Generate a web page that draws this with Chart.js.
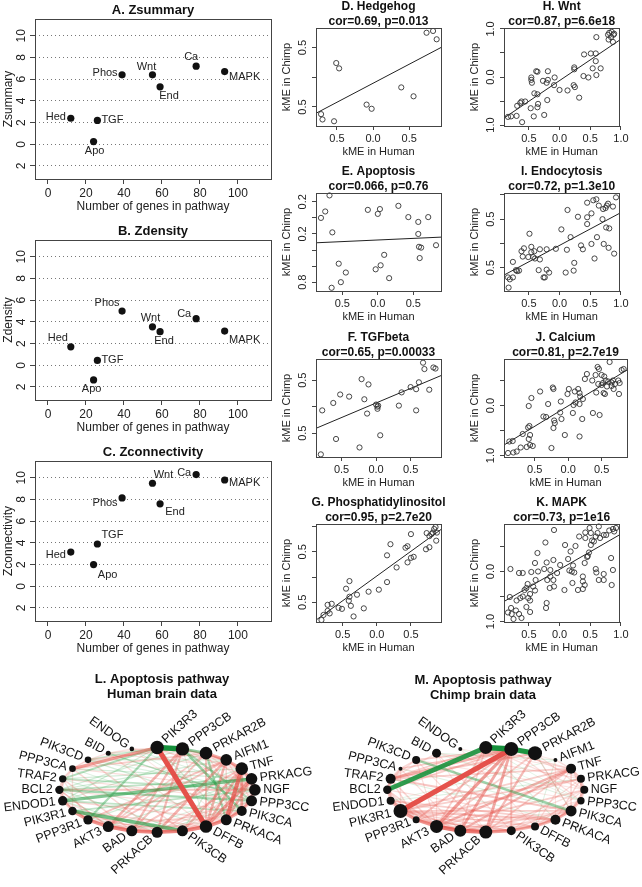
<!DOCTYPE html>
<html>
<head>
<meta charset="utf-8">
<script src="https://cdn.jsdelivr.net/npm/chart.js@4.4.0/dist/chart.umd.min.js"></script>
<style>
  body { margin: 0; background: #fff; width: 642px; height: 887px; position: relative; overflow: hidden; }
  canvas { position: absolute; }
</style>
</head>
<body>
<script>
// ---- A-C: pathway Z statistics ----
const pathways = ['Hed', 'TGF', 'Apo', 'Phos', 'Wnt', 'End', 'Ca', 'MAPK'];
const genesInPathway = [12, 26, 24, 39, 55, 59, 78, 93];
const zSummary = [2.4, 2.2, 0.25, 6.4, 6.4, 5.3, 7.2, 6.7];
const zDensity = [1.7, 0.45, -1.35, 5.0, 3.55, 3.1, 4.3, 3.15];
const zConnectivity = [3.15, 3.9, 2.0, 8.15, 9.5, 7.6, 10.3, 9.8];
const zTicks = [-2, 0, 2, 4, 6, 8, 10];
const geneTicks = [0, 20, 40, 60, 80, 100];

// ---- D-K: kME in human vs chimp, [human, chimp] ----
const hedgehogKME = [[0.74,0.75],[0.83,0.78],[0.88,0.64],[-0.51,0.24],[-0.47,0.15],[0.39,-0.17],[0.56,-0.32],
  [-0.09,-0.46],[-0.02,-0.53],[-0.72,-0.62],[-0.70,-0.71],[-0.54,-0.74]];
const apoptosisKME = [[-0.68,0.28],[-0.74,0.08],[-0.80,0.0],[-0.64,-0.18],[-0.14,0.10],[0.03,0.11],[0.0,0.05],
  [0.29,0.15],[0.43,0.01],[0.57,-0.05],[0.71,0.01],[0.57,-0.20],[0.58,-0.36],[0.61,-0.37],[0.82,-0.34],
  [0.59,-0.50],[-0.55,-0.57],[-0.45,-0.68],[-0.52,-0.80],[-0.65,-0.87],[0.09,-0.46],[0.04,-0.59],
  [-0.03,-0.64],[0.16,-0.75]];
const tgfbetaKME = [[0.68,0.83],[0.70,0.71],[0.83,0.74],[0.86,0.72],[-0.21,0.52],[-0.11,0.42],[-0.52,0.23],
  [-0.39,0.19],[-0.62,0.07],[-0.78,-0.07],[-0.17,0.14],[-0.13,-0.13],[0.0,0.04],[0.02,0.0],[0.03,0.02],
  [0.02,-0.04],[0.33,0.02],[0.37,0.27],[0.50,0.37],[0.62,0.46],[0.58,0.33],[0.58,-0.07],[0.77,0.32],
  [-0.58,-0.61],[-0.24,-0.77],[0.06,-0.54],[-0.80,-0.90]];
const phosphatidylKME = [[0.86,0.99],[0.84,0.95],[0.82,0.88],[0.88,0.88],[0.80,0.85],[0.77,0.81],[0.73,0.87],
  [0.87,0.72],[0.72,0.55],[0.77,0.59],[0.50,0.85],[0.45,0.61],[0.42,0.58],[0.45,0.29],[0.50,0.38],
  [0.54,0.40],[0.20,0.65],[0.15,0.43],[0.15,-0.10],[0.29,0.19],[0.03,-0.25],[-0.12,-0.29],[-0.19,-0.62],
  [-0.29,-0.35],[-0.40,-0.08],[-0.45,-0.23],[-0.40,-0.39],[-0.41,-0.47],[-0.38,-0.57],[-0.34,-0.78],
  [-0.56,-0.61],[-0.51,-0.63],[-0.66,-0.53],[-0.72,-0.67],[-0.72,-0.55],[-0.69,-0.72],[-0.78,-0.75],
  [-0.81,-0.85]];
const wntKME = [[0.60,0.83],[0.81,0.92],[0.85,0.94],[0.89,0.90],[0.84,0.83],[0.80,0.78],[0.87,0.73],
  [0.88,0.88],[0.79,0.88],[0.40,0.47],[0.51,0.49],[0.59,0.49],[0.59,0.33],[0.54,0.18],[0.67,0.18],
  [0.60,0.04],[0.47,-0.01],[0.39,0.02],[0.24,0.20],[0.24,0.16],[-0.08,-0.01],[-0.09,-0.17],[0.0,-0.27],
  [0.13,-0.28],[0.23,-0.17],[0.25,-0.21],[0.32,-0.43],[-0.19,0.12],[-0.27,-0.08],[-0.21,-0.12],
  [-0.19,-0.06],[-0.38,0.12],[-0.36,0.11],[-0.46,-0.01],[-0.46,-0.06],[-0.45,-0.12],[-0.41,-0.34],
  [-0.36,-0.36],[-0.35,-0.56],[-0.36,-0.63],[-0.20,-0.48],[-0.25,-0.79],[-0.42,-0.82],[-0.47,-0.65],
  [-0.56,-0.51],[-0.62,-0.51],[-0.64,-0.54],[-0.69,-0.60],[-0.61,-0.94],[-0.70,-0.81],[-0.79,-0.82],
  [-0.84,-0.83]];
const endocytosisKME = [[0.92,0.95],[0.60,0.91],[0.55,0.89],[0.45,0.84],[0.64,0.78],[0.79,0.82],[0.71,0.71],
  [0.75,0.73],[0.77,0.78],[0.87,0.76],[0.52,0.62],[0.30,0.55],[0.45,0.54],[0.70,0.50],[0.45,0.40],
  [0.76,0.33],[0.81,0.31],[0.13,0.69],[0.03,0.29],[0.18,0.13],[-0.49,0.20],[-0.58,-0.10],[-0.62,-0.16],
  [-0.46,-0.07],[-0.76,-0.38],[-0.60,-0.27],[-0.46,-0.18],[-0.41,-0.16],[-0.51,-0.28],[-0.43,-0.28],
  [-0.40,-0.31],[-0.32,-0.12],[-0.21,-0.12],[-0.06,-0.11],[0.12,-0.13],[0.35,-0.04],[0.38,-0.12],
  [0.52,-0.01],[0.61,0.13],[0.72,-0.01],[0.80,-0.09],[0.89,-0.21],[0.57,-0.31],[0.24,-0.40],[0.10,-0.60],
  [0.23,-0.56],[-0.32,-0.33],[-0.34,-0.55],[-0.21,-0.54],[-0.17,-0.60],[-0.26,-0.70],[-0.24,-0.70],
  [-0.71,-0.55],[-0.69,-0.57],[-0.66,-0.56],[-0.76,-0.70],[-0.81,-0.74],[-0.84,-0.70],[-0.83,-0.91]];
const calciumKME = [[0.62,0.87],[0.44,0.77],[0.46,0.73],[0.80,0.71],[0.83,0.73],[0.28,0.63],[0.41,0.61],
  [0.50,0.61],[0.54,0.58],[0.36,0.50],[0.45,0.43],[0.50,0.41],[0.52,0.45],[0.56,0.50],[0.60,0.48],
  [0.65,0.46],[0.67,0.50],[0.70,0.43],[0.75,0.50],[0.77,0.45],[0.58,0.38],[0.65,0.39],[0.68,0.33],
  [0.25,0.53],[0.53,0.25],[0.55,0.23],[0.76,0.23],[0.42,0.26],[0.10,0.28],[0.15,0.33],[0.17,0.25],
  [0.18,0.18],[0.22,0.13],[0.08,0.01],[0.11,0.06],[0.17,0.03],[0.01,0.33],[-0.01,0.23],[-0.23,0.36],
  [-0.22,0.33],[-0.42,0.28],[-0.55,0.15],[-0.59,-0.01],[-0.30,0.03],[-0.11,0.08],[-0.12,-0.14],
  [-0.37,-0.22],[-0.33,-0.23],[-0.21,-0.30],[-0.20,-0.35],[-0.22,-0.45],[-0.10,-0.27],[0.07,-0.15],
  [0.21,-0.27],[-0.05,-0.59],[0.17,-0.62],[0.37,-0.15],[0.47,-0.19],[-0.58,-0.41],[-0.60,-0.44],
  [-0.57,-0.59],[-0.68,-0.57],[-0.59,-0.67],[-0.57,-0.79],[-0.62,-0.83],[-0.53,-0.81],[-0.71,-0.84],
  [-0.77,-0.92],[-0.82,-0.94],[-0.90,-0.95],[-0.88,-0.72],[-0.83,-0.71],[-0.25,-0.85]];
const mapkKME = [[0.92,0.87],[0.87,0.85],[0.89,0.80],[0.81,0.82],[0.76,0.73],[0.72,0.73],[0.64,0.90],
  [0.62,0.77],[0.66,0.67],[0.59,0.70],[0.53,0.62],[0.51,0.53],[0.56,0.60],[0.42,0.78],[0.42,0.67],
  [0.51,0.77],[0.49,0.87],[0.32,0.70],[0.26,0.51],[0.48,0.38],[0.46,0.31],[0.45,0.29],[0.41,0.17],
  [0.59,0.05],[0.60,-0.02],[0.64,-0.17],[0.38,-0.10],[0.38,-0.20],[0.41,-0.27],[0.38,-0.35],[0.21,-0.23],
  [0.22,0.12],[0.20,0.0],[0.16,0.02],[0.24,-0.02],[0.14,0.25],[0.18,0.40],[0.09,0.53],[0.08,-0.37],
  [0.01,0.13],[-0.04,-0.03],[-0.10,-0.17],[-0.09,-0.30],[-0.15,0.03],[-0.16,-0.33],[-0.10,0.23],
  [-0.21,0.18],[-0.25,0.05],[-0.40,0.17],[-0.36,0.37],[-0.35,0.0],[-0.46,-0.01],[-0.39,-0.17],
  [-0.43,-0.30],[-0.40,-0.38],[-0.48,-0.45],[-0.57,-0.37],[-0.52,-0.25],[-0.54,-0.33],[-0.51,-0.53],
  [-0.48,-0.58],[-0.54,-0.71],[-0.60,-0.03],[-0.66,-0.03],[-0.80,0.05],[-0.60,-0.50],[-0.64,-0.53],
  [-0.81,-0.51],[-0.70,-0.58],[-0.23,0.58],[-0.09,0.83],[-0.15,-0.10],[-0.20,-0.17],[-0.21,-0.63],
  [-0.22,-0.73],[0.84,0.27],[0.87,0.03],[0.72,-0.05],[0.85,-0.27],[0.72,-0.17],[0.30,-0.37],
  [-0.84,-0.82],[-0.79,-0.73],[-0.71,-0.78],[-0.66,-0.85],[-0.62,-0.93],[-0.75,-0.95],[-0.78,-0.85],
  [-0.48,-0.81]];
// fitted lines [slope, intercept]
const hedgehogFit = [0.64, -0.10];
const apoptosisFit = [0.04, -0.275];
const tgfbetaFit = [0.55, 0.07];
const phosphatidylFit = [0.98, 0.02];
const wntFit = [0.861, -0.075];
const endocytosisFit = [0.676, -0.04];
const calciumFit = [0.815, -0.008];
const mapkFit = [0.708, 0.041];

// ---- L-M: apoptosis pathway networks ----
const apoGenes = ['PIK3R3','PPP3CB','PRKAR2B','AIFM1','TNF','PRKACG','NGF','PPP3CC','PIK3CA','PRKACA',
  'DFFB','PIK3CB','PRKACB','BAD','AKT3','PPP3R1','PIK3R1','ENDOD1','BCL2','TRAF2','PPP3CA','PIK3CD','BID','ENDOG'];
const humanConn = [0.94,0.94,0.86,0.76,0.86,0.76,0.76,0.70,0.60,0.70,0.86,0.70,0.70,0.70,0.70,0.54,0.46,0.54,
  0.44,0.34,0.26,0.26,0.10,0.06];
const chimpConn = [0.90,1.0,1.0,0.0,0.60,0.40,0.40,0.34,0.70,0.60,0.40,0.50,0.90,0.80,0.90,0.30,1.0,0.40,
  0.44,0.60,0.0,0.40,0.50,0.0];
// [gene a, gene b, correlation]  (positive red, negative green)
const humanEdges = [
  [0,1,-0.9],[1,2,-0.5],[0,10,0.85],[16,11,-0.6],[17,5,-0.55],[18,7,-0.4],[20,0,0.55],
  [4,9,0.7],[5,10,0.55],[4,10,0.45],[3,10,0.45],[1,14,0.45],[1,13,0.4],[1,12,0.4],[2,13,0.35],[12,3,0.45],[14,3,0.35],
  [16,15,0.55],[15,14,0.6],[14,13,0.65],[13,12,0.65],[12,11,0.65],[11,10,0.65],[10,9,0.6],[9,8,0.5],
  [2,3,0.5],[3,4,0.5],[4,5,0.4],[5,6,0.35],[6,7,0.35],[7,8,0.4],
  [0,15,-0.4],[0,19,-0.35],[1,8,-0.45],[2,9,-0.4],[1,7,-0.35],[18,5,-0.3],[19,6,-0.3],[17,8,-0.3],[16,6,-0.3],
  [18,6,0.35],[15,3,0.35],[13,4,0.35],[11,4,0.4],[10,2,0.35],[9,5,0.45],[8,4,0.5],[20,2,0.3],[21,1,0.3],[14,2,0.3],[12,5,0.3],
  [23,3,0.2],[23,9,0.15],[22,4,0.2],[22,10,0.2],[21,5,0.15],[21,11,0.25],[20,6,0.2],[20,12,0.25],[19,7,0.2],
  [19,13,0.25],[18,8,0.2],[18,14,0.25],[17,9,0.25],[17,15,0.3],[16,10,0.25],[15,9,0.2],[15,11,0.2],[14,8,0.2],
  [14,10,0.25],[13,7,0.2],[13,9,0.2],[12,6,0.2],[12,8,0.2],[11,5,0.2],[11,7,0.2],[10,6,0.2],[9,3,0.25],[8,2,0.2],
  [7,3,0.2],[6,0,0.2],[6,2,0.2],[5,1,0.2],[4,0,0.2],[3,1,0.25],[2,0,0.25],[22,0,0.15],[23,1,0.15],
  [23,6,-0.15],[22,7,-0.2],[21,8,-0.2],[20,9,-0.15],[19,10,-0.15],[18,11,-0.2],[17,12,-0.2],[16,13,-0.15],
  [15,4,-0.2],[14,5,-0.2],[13,6,-0.15],[12,7,-0.2],[11,3,-0.2],[10,1,-0.15],[9,0,-0.2],[8,23,-0.15],[7,22,-0.2],
  [6,21,-0.15],[5,20,-0.2],[4,19,-0.2],[3,18,-0.2],[2,17,-0.2],[1,18,-0.2],[0,17,-0.2],[0,21,-0.25],[1,22,-0.15],[3,21,-0.15],
  [16,17,0.3],[17,18,0.3],[18,19,0.3],[19,20,0.3],[20,21,0.25],[21,22,0.2],[22,23,0.15],[15,17,0.25],[16,18,0.25],
  [17,19,0.25],[18,20,0.2],[16,20,0.2],[15,19,0.2],[14,18,0.2],[13,17,0.2],[12,16,0.25],[13,15,0.3],[12,14,0.3],
  [11,13,0.3],[10,12,0.3],[9,11,0.3],[8,10,0.3],[7,9,0.35],[6,8,0.35],[5,7,0.35],[4,6,0.3],[3,5,0.3],[2,4,0.3],[1,3,0.25]
];
const chimpEdges = [
  [0,1,-0.9],[1,2,-0.85],[18,0,-0.8],[21,8,-0.45],[1,16,0.85],
  [1,14,0.55],[1,13,0.5],[1,12,0.5],[1,19,0.45],[1,11,0.35],[1,15,0.35],
  [4,14,0.45],[4,13,0.4],[4,16,0.3],[4,12,0.3],[2,12,0.4],[2,14,0.3],[0,14,0.3],[0,13,0.25],
  [16,15,0.55],[15,14,0.6],[14,13,0.7],[13,12,0.7],[12,11,0.55],[11,10,0.45],[10,9,0.45],[9,8,0.45],
  [16,17,0.4],[17,18,0.35],[18,19,0.4],[19,20,0.3],[20,21,0.25],
  [8,7,0.35],[7,6,0.3],[6,5,0.3],[5,4,0.35],[4,3,0.2],
  [19,2,0.35],[19,4,0.3],[15,5,0.3],[14,6,0.3],[17,9,0.3],[16,9,0.35],[16,8,0.3],[13,8,0.25],
  [20,1,0.3],[21,1,0.3],[19,0,0.3],[18,1,0.3],[8,19,0.35],[5,16,0.3],
  [23,4,0.15],[23,10,0.15],[22,5,0.2],[22,11,0.2],[21,6,0.15],[21,12,0.2],[20,7,0.15],[20,13,0.2],[19,14,0.25],
  [18,9,0.2],[18,15,0.25],[17,10,0.2],[17,14,0.25],[16,10,0.25],[15,9,0.2],[15,11,0.25],[14,8,0.2],[14,10,0.25],
  [13,7,0.2],[13,9,0.2],[12,6,0.2],[12,8,0.2],[11,5,0.2],[11,7,0.2],[10,4,0.2],[10,6,0.2],[9,3,0.15],[9,5,0.25],
  [8,2,0.2],[8,4,0.25],[7,1,0.2],[6,0,0.2],[6,2,0.2],[5,1,0.2],[4,0,0.25],[3,1,0.15],[2,0,0.2],[15,17,0.25],
  [16,18,0.3],[17,19,0.25],[18,20,0.2],[16,20,0.2],[15,19,0.25],[14,18,0.25],[13,17,0.2],[12,16,0.3],[11,16,0.25],
  [13,15,0.35],[12,14,0.35],[11,13,0.3],[10,12,0.3],[9,11,0.3],[8,10,0.3],[7,9,0.3],[6,8,0.3],[5,7,0.3],[4,6,0.3],
  [22,19,0.2],[21,19,0.2],[22,12,0.15],[22,14,0.2],[21,14,0.2],
  [20,8,-0.15],[19,9,-0.15],[22,7,-0.15],[17,5,-0.15],[0,9,-0.15],[2,8,-0.15],[3,10,-0.15],[22,3,-0.15],
  [23,7,-0.1],[3,17,-0.12],[0,7,-0.12]
];

// label placement for A-C points (pixel offsets from the dot)
const labelPosA = [[-15,-1],[15,0],[1,9],[-17,-2],[-6,-8],[9,9],[-5,-9],[20,5]];
const labelPosB = [[-13,-9],[15,0],[-2,9],[-15,-8],[-2,-9],[4,9],[-12,-5],[20,9]];
const labelPosC = [[-15,3],[15,-9],[14,10],[-17,5],[11,-8],[15,8],[-12,-2],[20,3]];

const FONT = '"Liberation Sans", Arial, Helvetica, sans-serif';
Chart.defaults.font.family = FONT;
Chart.defaults.color = '#222';

function addCanvas(left, top, w, h) {
  const c = document.createElement('canvas');
  c.width = w; c.height = h;
  c.style.left = left + 'px'; c.style.top = top + 'px';
  c.style.width = w + 'px'; c.style.height = h + 'px';
  document.body.appendChild(c);
  return c;
}

function boxPlugin() {
  return {
    id: 'plotBox',
    afterDraw(chart) {
      const a = chart.chartArea, ctx = chart.ctx;
      ctx.save();
      ctx.strokeStyle = '#444';
      ctx.lineWidth = 1;
      ctx.strokeRect(Math.round(a.left) + 0.5, Math.round(a.top) + 0.5,
        Math.round(a.right - a.left), Math.round(a.bottom - a.top));
      ctx.restore();
    }
  };
}

function titlePlugin(lines, size, dy, cx) {
  return {
    id: 'panelTitle',
    afterDraw(chart) {
      const a = chart.chartArea, ctx = chart.ctx;
      ctx.save();
      ctx.fillStyle = '#111';
      ctx.font = 'bold ' + size + 'px ' + FONT;
      ctx.textAlign = 'center';
      ctx.textBaseline = 'middle';
      const x = cx != null ? cx : (a.left + a.right) / 2;
      lines.forEach((t, i) => ctx.fillText(t, x, a.top + dy[i]));
      ctx.restore();
    }
  };
}

function pointLabelPlugin(labels, offsets) {
  return {
    id: 'pointLabels',
    afterDatasetsDraw(chart) {
      const meta = chart.getDatasetMeta(0), ctx = chart.ctx;
      ctx.save();
      ctx.fillStyle = '#222';
      ctx.font = '11px ' + FONT;
      ctx.textAlign = 'center';
      ctx.textBaseline = 'middle';
      meta.data.forEach((pt, i) => {
        ctx.fillText(labels[i], pt.x + offsets[i][0], pt.y + offsets[i][1]);
      });
      ctx.restore();
    }
  };
}

function fixedTicks(vals) {
  return (scale) => { scale.ticks = vals.map(v => ({ value: v })); };
}

// ---------- A-C ----------
function zPanel(box, title, yTitle, values, offsets) {
  const cv = addCanvas(box.x - 35, box.y - 19, box.w + 41, box.h + 55);
  new Chart(cv, {
    type: 'scatter',
    data: {
      datasets: [{
        data: genesInPathway.map((g, i) => ({ x: g, y: values[i] })),
        backgroundColor: '#111', borderColor: '#111', borderWidth: 0,
        pointRadius: 3.6, pointHoverRadius: 3.6, clip: 6
      }]
    },
    options: {
      responsive: false, animation: false, events: [],
      layout: { padding: { top: 19, right: 6, left: 0, bottom: 0 } },
      plugins: { legend: { display: false }, tooltip: { enabled: false } },
      scales: {
        x: {
          type: 'linear', min: -6.84, max: 117.4,
          afterBuildTicks: fixedTicks(geneTicks),
          afterFit: (s) => { s.height = 36; },
          grid: { drawOnChartArea: false, tickLength: 5, color: '#444' },
          border: { display: false },
          ticks: { font: { size: 12 }, color: '#222', padding: 2, maxRotation: 0, autoSkip: false },
          title: { display: true, text: 'Number of genes in pathway', font: { size: 12 }, color: '#222',
                   padding: { top: 0, bottom: 1 } }
        },
        y: {
          type: 'linear', min: -3.2, max: 11.55,
          afterBuildTicks: fixedTicks(zTicks),
          afterFit: (s) => { s.width = 35; },
          grid: { drawOnChartArea: true, tickLength: 5, color: '#777', tickColor: '#444' },
          border: { display: false, dash: [1, 3] },
          ticks: { font: { size: 12 }, color: '#222', padding: 1.5, minRotation: 90, maxRotation: 90,
                   crossAlign: 'center', autoSkip: false, callback: (v) => String(Math.abs(v)) },
          title: { display: true, text: yTitle, font: { size: 12 }, color: '#222', padding: { top: 1, bottom: 0 } }
        }
      }
    },
    plugins: [boxPlugin(), titlePlugin([title], 13, [-9]), pointLabelPlugin(pathways, offsets)]
  });
}

zPanel({ x: 35, y: 19, w: 236, h: 160 }, 'A. Zsummary', 'Zsummary', zSummary, labelPosA);
zPanel({ x: 35, y: 240, w: 236, h: 160 }, 'B. Zdensity', 'Zdensity', zDensity, labelPosB);
zPanel({ x: 35, y: 461, w: 236, h: 160 }, 'C. Zconnectivity', 'Zconnectivity', zConnectivity, labelPosC);

// ---------- D-K ----------
function kmePanel(box, title, stat, pts, fit, xr, yr, xt, yt, ylab) {
  const cv = addCanvas(box.x - 36, box.y - 28, box.w + 40, box.h + 61);
  const fmt = (v) => Math.abs(v).toFixed(1);
  new Chart(cv, {
    type: 'scatter',
    data: {
      datasets: [
        {
          data: pts.map(p => ({ x: p[0], y: p[1] })),
          backgroundColor: 'rgba(0,0,0,0)', borderColor: '#333', borderWidth: 0.9,
          pointRadius: 2.6, pointHoverRadius: 2.6, clip: 4
        },
        {
          data: xr.map(x => ({ x: x, y: fit[1] + fit[0] * x })),
          showLine: true, borderColor: '#222', borderWidth: 1, pointRadius: 0
        }
      ]
    },
    options: {
      responsive: false, animation: false, events: [],
      layout: { padding: { top: 28, right: 4, left: 0, bottom: 0 } },
      plugins: { legend: { display: false }, tooltip: { enabled: false } },
      scales: {
        x: {
          type: 'linear', min: xr[0], max: xr[1],
          afterBuildTicks: fixedTicks(xt),
          afterFit: (s) => { s.height = 33; },
          grid: { drawOnChartArea: false, tickLength: 4, color: '#444' },
          border: { display: false },
          ticks: { font: { size: 11 }, color: '#222', padding: 2.5, maxRotation: 0, autoSkip: false, callback: fmt },
          title: { display: true, text: 'kME in Human', font: { size: 11 }, color: '#222', padding: { top: 0, bottom: 0.5 } }
        },
        y: {
          type: 'linear', min: yr[0], max: yr[1],
          afterBuildTicks: fixedTicks(yt),
          afterFit: (s) => { s.width = 36; },
          grid: { drawOnChartArea: false, tickLength: 4, color: '#444' },
          border: { display: false },
          ticks: { font: { size: 11 }, color: '#222', padding: 1.3, minRotation: 90, maxRotation: 90,
                   crossAlign: 'center', autoSkip: false,
                   callback: (v) => (ylab.includes(v) ? fmt(v) : '') },
          title: { display: true, text: 'kME in Chimp', font: { size: 11 }, color: '#222', padding: { top: 0.5, bottom: 0 } }
        }
      }
    },
    plugins: [boxPlugin(), titlePlugin([title, stat], 12, [-21, -6])]
  });
}

const colL = 316, colR = 504, wL = 125, wR = 123;
const rowY = [28, 193, 359, 524], boxH = 98;
const tk = [-0.5, 0, 0.5], tk4 = [-0.5, 0, 0.5, 1];

kmePanel({ x: colL, y: rowY[0], w: wL, h: boxH }, 'D. Hedgehog', 'cor=0.69, p=0.013', hedgehogKME, hedgehogFit,
  [-0.79, 0.94], [-0.82, 0.83], tk, tk, [0.5, -0.5]);
kmePanel({ x: colL, y: rowY[1], w: wL, h: boxH }, 'E. Apoptosis', 'cor=0.066, p=0.76', apoptosisKME, apoptosisFit,
  [-0.87, 0.89], [-0.91, 0.31], tk, [0.2, 0, -0.2, -0.4, -0.6, -0.8], [0.2, -0.2, -0.8]);
kmePanel({ x: colL, y: rowY[2], w: wL, h: boxH }, 'F. TGFbeta', 'cor=0.65, p=0.00033', tgfbetaKME, tgfbetaFit,
  [-0.87, 0.94], [-0.95, 0.90], tk, tk, [0.5, -0.5]);
kmePanel({ x: colL, y: rowY[3], w: wL, h: boxH }, 'G. Phosphatidylinositol', 'cor=0.95, p=2.7e20', phosphatidylKME, phosphatidylFit,
  [-0.89, 0.94], [-0.89, 1.05], tk, tk4, [0.5, -0.5]);
kmePanel({ x: colR, y: rowY[0], w: wR, h: boxH }, 'H. Wnt', 'cor=0.87, p=6.6e18', wntKME, wntFit,
  [-0.905, 0.975], [-1.02, 1.02], tk4, [-1, -0.5, 0, 0.5, 1], [1, 0, -1]);
kmePanel({ x: colR, y: rowY[1], w: wR, h: boxH }, 'I. Endocytosis', 'cor=0.72, p=1.3e10', endocytosisKME, endocytosisFit,
  [-0.905, 0.975], [-0.98, 1.04], tk4, tk4, [0.5, -0.5]);
kmePanel({ x: colR, y: rowY[2], w: wR, h: boxH }, 'J. Calcium', 'cor=0.81, p=2.7e19', calciumKME, calciumFit,
  [-0.96, 0.88], [-1.03, 0.93], tk, [-1, -0.5, 0, 0.5], [0, -1]);
kmePanel({ x: colR, y: rowY[3], w: wR, h: boxH }, 'K. MAPK', 'cor=0.73, p=1e16', mapkKME, mapkFit,
  [-0.905, 0.975], [-1.01, 0.95], tk4, [-1, -0.5, 0, 0.5], [0, -1]);

// ---------- L-M ----------
function nodeLabelPlugin(radii) {
  return {
    id: 'nodeLabels',
    afterDatasetsDraw(chart) {
      const meta = chart.getDatasetMeta(0), ctx = chart.ctx;
      const n = apoGenes.length;
      ctx.save();
      ctx.font = '12.5px ' + FONT;
      ctx.fillStyle = '#111';
      ctx.textBaseline = 'middle';
      meta.data.forEach((el, i) => {
        const deg = 90 - 360 / n * i;
        const right = deg > -90;
        const rot = 0.47 * (right ? deg : deg + 180) * Math.PI / 180;
        const gap = radii[i] + 2.5;
        ctx.save();
        ctx.translate(el.x, el.y);
        ctx.rotate(-rot);
        ctx.textAlign = right ? 'left' : 'right';
        ctx.fillText(apoGenes[i], right ? gap : -gap, 0);
        ctx.restore();
      });
      ctx.restore();
    }
  };
}

function edgeColor(w) {
  const s = Math.abs(w);
  const a = Math.min(1, 0.08 + 1.1 * Math.pow(s, 1.3));
  if (w > 0) {
    return 'rgba(' + Math.round(235 - 8 * s) + ',' + Math.round(115 - 45 * s) + ',' + Math.round(105 - 40 * s) + ',' + a.toFixed(3) + ')';
  }
  return 'rgba(' + Math.round(70 - 55 * s) + ',' + Math.round(180 - 40 * s) + ',' + Math.round(90 - 35 * s) + ',' + a.toFixed(3) + ')';
}

function networkPanel(left, xr, yr, conn, edges, titleLines) {
  const cv = addCanvas(left, 655, 321, 232);
  const n = apoGenes.length;
  const pos = apoGenes.map((g, i) => {
    const t = (90 - 360 / n * i) * Math.PI / 180;
    return { x: Math.cos(t), y: Math.sin(t) };
  });
  const radii = conn.map(k => 2 + 5 * k);
  const sorted = edges.slice().sort((a, b) => Math.abs(b[2]) - Math.abs(a[2]));
  const edgeSets = sorted.map(e => ({
    data: [pos[e[0]], pos[e[1]]],
    showLine: true, borderColor: edgeColor(e[2]),
    borderWidth: 0.6 + 5.5 * Math.pow(Math.abs(e[2]), 1.3),
    pointRadius: 0, borderCapStyle: 'round', clip: false
  }));
  const nodes = {
    data: pos, pointRadius: radii, pointHoverRadius: radii,
    backgroundColor: '#111', borderColor: '#111', borderWidth: 0, clip: false
  };
  new Chart(cv, {
    type: 'scatter',
    data: { datasets: [nodes].concat(edgeSets) },
    options: {
      responsive: false, animation: false, events: [],
      layout: { padding: 0 },
      plugins: { legend: { display: false }, tooltip: { enabled: false } },
      scales: {
        x: { type: 'linear', min: xr[0], max: xr[1], display: false },
        y: { type: 'linear', min: yr[0], max: yr[1], display: false }
      }
    },
    plugins: [nodeLabelPlugin(radii), titlePlugin(titleLines, 13, [18, 33], 162)]
  });
}

networkPanel(0, [-1.539, 1.608], [-2.133, 3.022], humanConn, humanEdges,
  ['L. Apoptosis pathway', 'Human brain data']);
networkPanel(321, [-1.602, 1.515], [-2.133, 3.022], chimpConn, chimpEdges,
  ['M. Apoptosis pathway', 'Chimp brain data']);
</script>
</body>
</html>
